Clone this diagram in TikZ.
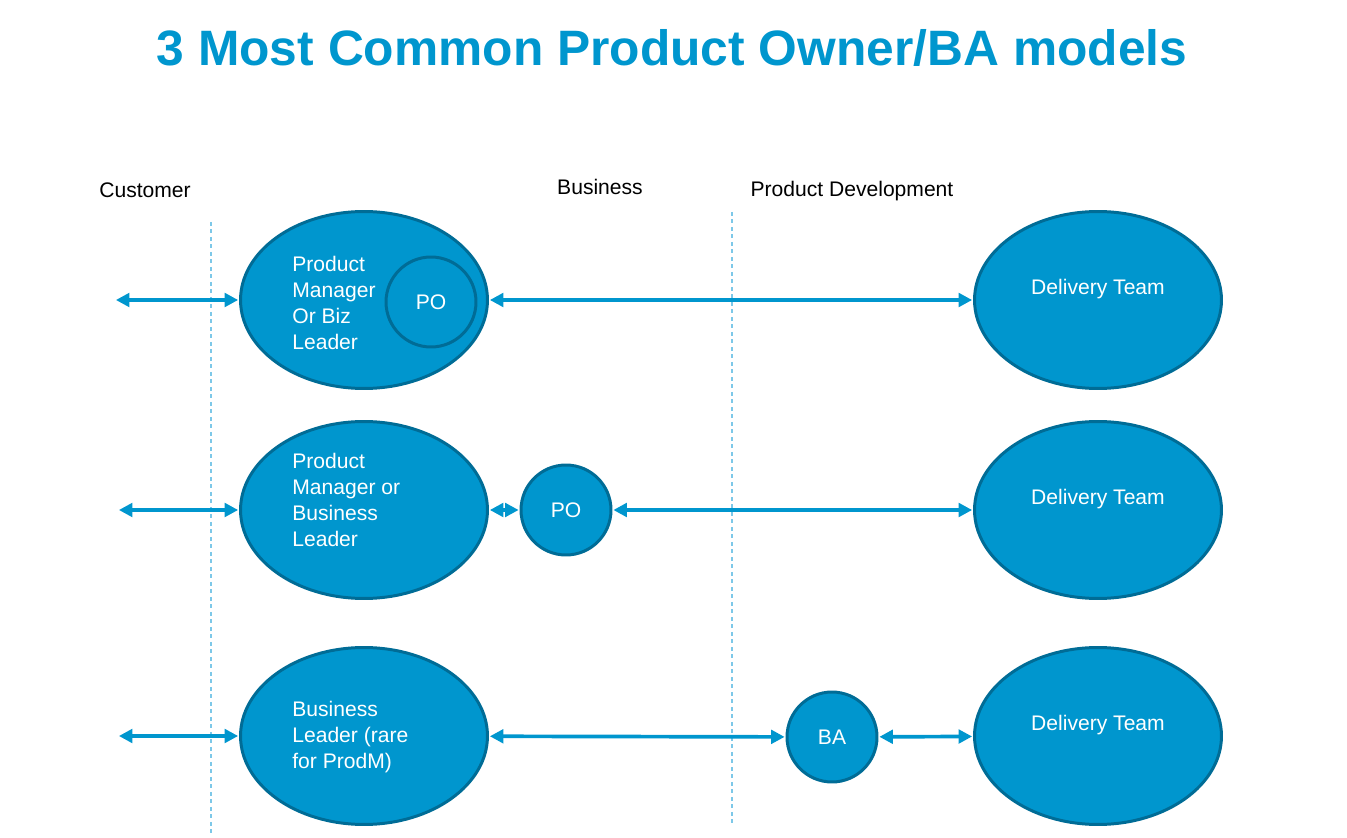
\documentclass[tikz,border=0pt]{standalone}
\usepackage{fontspec}
\setmainfont{Liberation Sans}
\usetikzlibrary{shapes.geometric,arrows.meta}
\definecolor{teamblue}{RGB}{0,150,206}
\definecolor{rimblue}{RGB}{0,108,150}
\definecolor{gridblue}{RGB}{125,200,232}

\begin{document}
\begin{tikzpicture}[x=0.02cm, y=-0.02cm, every node/.style={font=\fontsize{12}{14.8}\selectfont},
	role/.style={ellipse, draw=rimblue, fill=teamblue, line width=1.7pt, minimum width=4.94cm, minimum height=3.54cm},
	small/.style={circle, draw=rimblue, fill=teamblue, line width=1.7pt, minimum size=1.8cm, text=white},
	inner/.style={anchor=west, align=left, text=white, inner sep=0pt},
	link/.style={{Triangle[length=0.27cm,width=0.27cm]}-{Triangle[length=0.27cm,width=0.27cm]}, draw=teamblue, line width=2.1pt, shorten <=0.5pt, shorten >=0.5pt},
	divider/.style={draw=gridblue, line width=0.8pt, dash pattern=on 0.08cm off 0.07cm}]
			\useasboundingbox (0,0) rectangle (1347,838);

			% Title and columns
			\node[font=\bfseries\fontsize{28.3}{34}\selectfont, text=teamblue] (title) at (672,48) {3 Most Common Product Owner/BA models};
			\node (customer) at (145,190) {Customer};
			\node (business) at (600,187) {Business};
			\node (proddev) at (852,191) {Product Development};
			\draw[divider] (211,222) -- (211,835);
			\draw[divider] (732,212) -- (732,825);

			% Nodes
			\node[role] (pm1) at (364,300) {};
			\node[role] (pm2) at (364,510) {};
			\node[role] (bl3) at (364,736) {};
			\node[role] (dt1) at (1098,300) {};
			\node[role] (dt2) at (1098,510) {};
			\node[role] (dt3) at (1098,736) {};
			\node[small] (po1) at (431,302) {PO};
			\node[small] (po2) at (566,510) {PO};
			\node[small] (ba3) at (832,737) {BA};

			\node[inner] (pm1text) at (292,303) {Product\\Manager\\Or Biz\\Leader};
			\node[inner] (pm2text) at (292,500) {Product\\Manager or\\Business\\Leader};
			\node[inner] (bl3text) at (292,737) {Business\\Leader (rare\\for ProdM)};
			\node[text=white] (dt1text) at (1098,289) {Delivery Team};
			\node[text=white] (dt2text) at (1098,499) {Delivery Team};
			\node[text=white] (dt3text) at (1098,725) {Delivery Team};

			% Links
			\coordinate (c1) at (115,300);
			\coordinate (c2) at (118,510);
			\coordinate (c3) at (118,736);
			\draw[link] (c1) -- (pm1.west);
			\draw[link] (c2) -- (pm2.west);
			\draw[link] (c3) -- (bl3.west);
			\draw[link] (pm1) -- (dt1);
			\draw[link] (pm2) -- (po2);
			\draw[link] (po2) -- (dt2);
			\draw[link] (bl3) -- (ba3);
			\draw[link] (ba3) -- (dt3);
		\end{tikzpicture}
\end{document}
